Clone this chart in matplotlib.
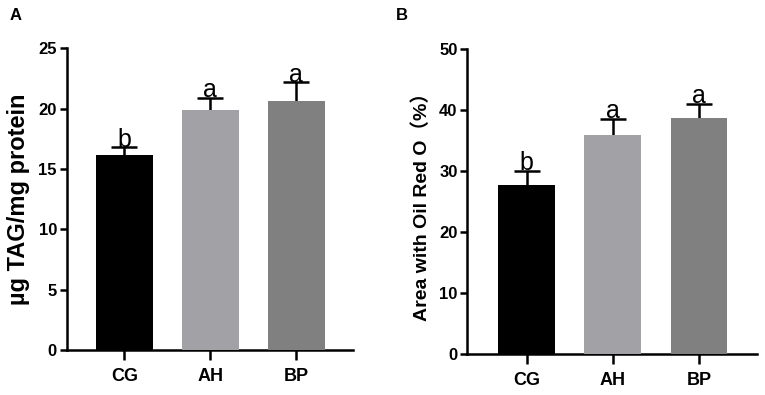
import matplotlib.pyplot as plt

plt.rcParams['font.family'] = ['Liberation Sans', 'Noto Sans CJK SC', 'DejaVu Sans']

groups = ['CG', 'AH', 'BP']
colors = ['#000000', '#a2a2a6', '#808080']

tag_mean = [16.15, 19.9, 20.65]
tag_err = [0.65, 1.0, 1.55]
tag_letters = ['b', 'a', 'a']

oil_mean = [27.7, 35.9, 38.8]
oil_err = [2.4, 2.7, 2.3]
oil_letters = ['b', 'a', 'a']

fig = plt.figure(figsize=(7.65, 3.95), dpi=100)


def panel(rect, means, errs, letters, ymax, ystep, ylabel, xlim, label_size):
    ax = fig.add_axes(rect)
    x = range(len(groups))
    ax.bar(x, means, width=0.66, color=colors, zorder=3)
    # symmetric bars drawn behind the columns so only the upper half shows
    ax.errorbar(x, means, yerr=errs, fmt='none', ecolor='black',
                elinewidth=1.8, capsize=9.5, capthick=1.8, zorder=2)
    for xi, m, e, t in zip(x, means, errs, letters):
        ax.text(xi, m + e - ymax * 0.015, t, ha='center', va='bottom', fontsize=18)
    ax.set_xlim(*xlim)
    ax.set_ylim(0, ymax)
    ax.set_yticks(range(0, ymax + 1, ystep))
    ax.set_xticks(list(x))
    ax.set_xticklabels(groups, fontsize=13, fontweight='bold')
    for lab in ax.get_yticklabels():
        lab.set_fontsize(12)
        lab.set_fontweight('bold')
    ax.spines['top'].set_visible(False)
    ax.spines['right'].set_visible(False)
    ax.spines['left'].set_linewidth(1.8)
    ax.spines['bottom'].set_linewidth(1.8)
    ax.tick_params(axis='y', length=5, width=1.8, pad=2)
    ax.tick_params(axis='x', length=7, width=1.8, pad=6)
    ax.set_ylabel(ylabel, fontsize=label_size, fontweight='bold', labelpad=6)
    return ax


panel([0.0872, 0.1139, 0.3742, 0.7638], tag_mean, tag_err, tag_letters,
      25, 5, 'µg TAG/mg protein', (-0.67, 2.66), 17)
panel([0.6108, 0.1038, 0.3783, 0.7714], oil_mean, oil_err, oil_letters,
      50, 10, 'Area with Oil Red O（%）', (-0.69, 2.67), 14)

fig.text(10 / 765, 1 - 16 / 395, 'A', fontsize=12, fontweight='bold', va='center')
fig.text(396 / 765, 1 - 16 / 395, 'B', fontsize=12, fontweight='bold', va='center')

fig.savefig('out.png', dpi=100)
